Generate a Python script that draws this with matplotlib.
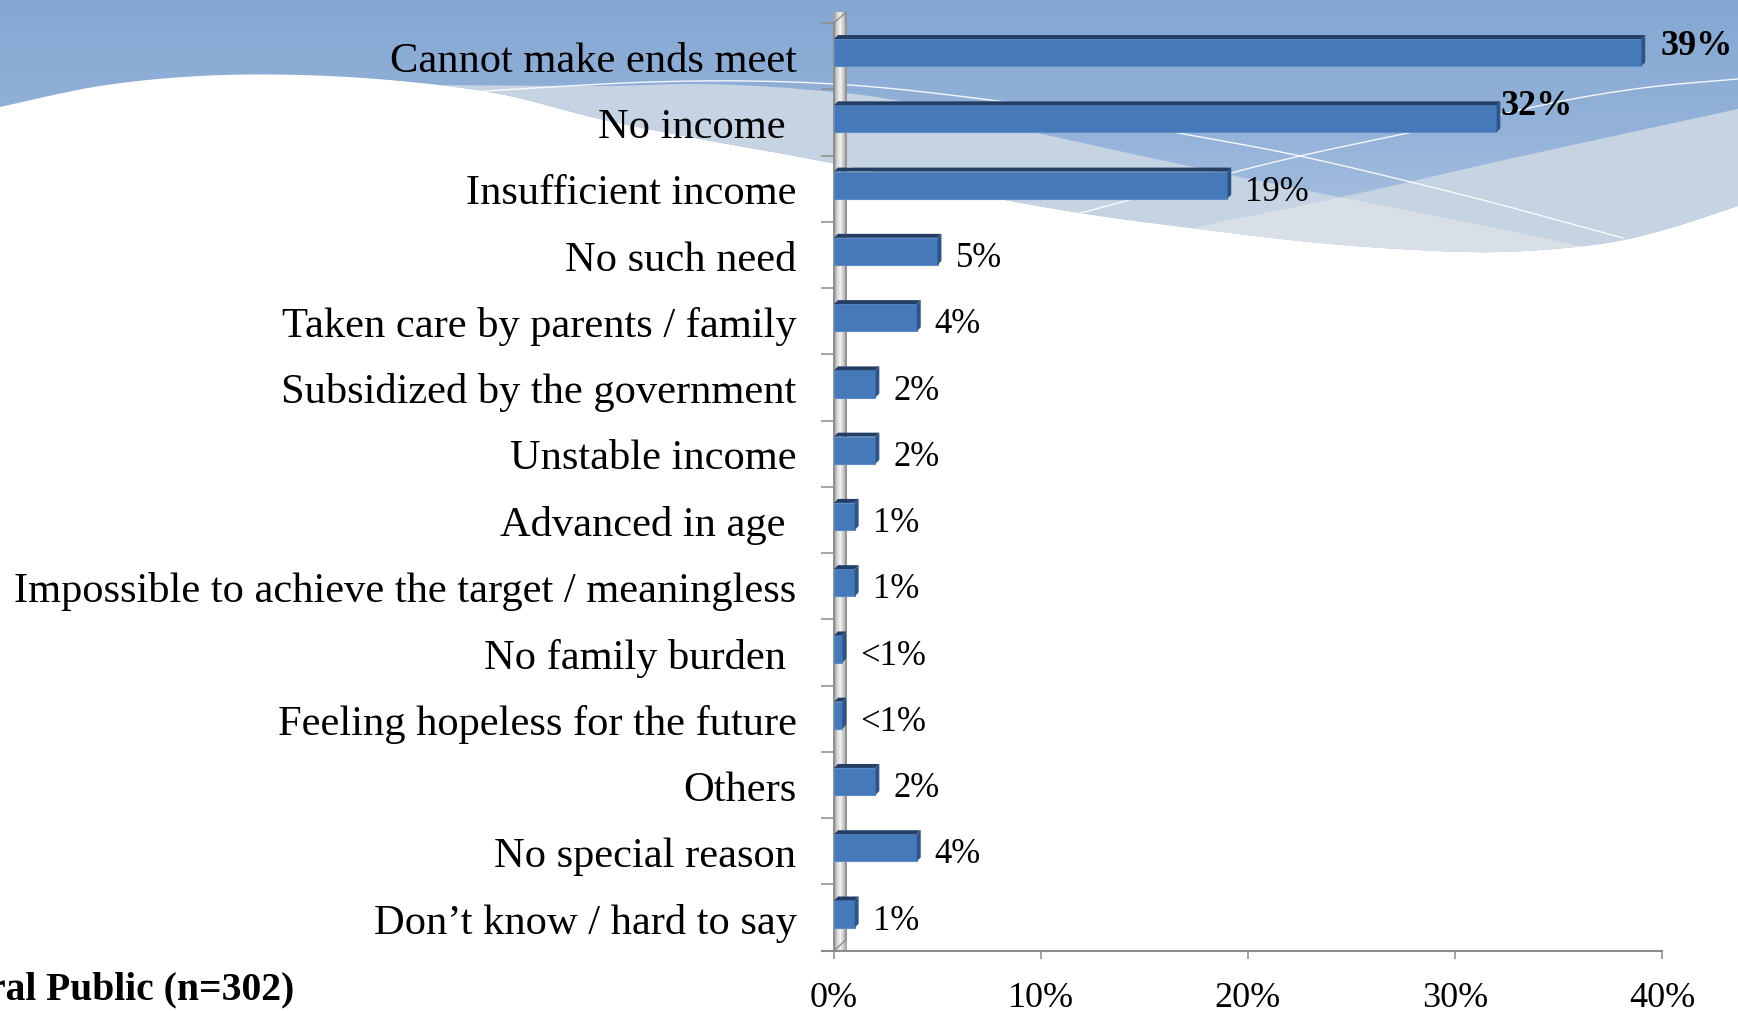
import numpy as np
import matplotlib
matplotlib.use("Agg")
import matplotlib.pyplot as plt
from matplotlib.patches import Polygon
from matplotlib.colors import LinearSegmentedColormap

plt.rcParams['font.family'] = ['Liberation Serif', 'DejaVu Serif']

# reasons for not saving, share of respondents (%)
categories = ["Cannot make ends meet", "No income ", "Insufficient income", "No such need",
              "Taken care by parents / family", "Subsidized by the government",
              "Unstable income", "Advanced in age ",
              "Impossible to achieve the target / meaningless", "No family burden ",
              "Feeling hopeless for the future", "Others", "No special reason",
              "Don\u2019t know / hard to say"]
values = [39, 32, 19, 5, 4, 2, 2, 1, 1, 0.4, 0.4, 2, 4, 1]
value_labels = ["39%", "32%", "19%", "5%", "4%", "2%", "2%", "1%", "1%",
                "<1%", "<1%", "2%", "4%", "1%"]
x_ticks = [0, 10, 20, 30, 40]
note = "General Public (n=302)"

W, H = 1738, 1012
fig = plt.figure(figsize=(W / 100, H / 100), dpi=100)


def smooth(pts, n=30):
    # catmull-rom through the control points
    p = np.array(pts, float)
    p = np.vstack([p[0], p, p[-1]])
    out = []
    t = np.linspace(0, 1, n, endpoint=False)[:, None]
    for i in range(1, len(p) - 2):
        p0, p1, p2, p3 = p[i - 1], p[i], p[i + 1], p[i + 2]
        out.append(0.5 * (2 * p1 + (-p0 + p2) * t + (2 * p0 - 5 * p1 + 4 * p2 - p3) * t ** 2
                          + (-p0 + 3 * p1 - 3 * p2 + p3) * t ** 3))
    out.append(p[-2][None])
    return np.vstack(out)


def on_grid(pts, xs):
    c = smooth(pts)
    return np.interp(xs, c[:, 0], c[:, 1])


# ---- decorative wave banner behind the chart (pixel coordinates) ----
bg = fig.add_axes([0, 0, 1, 1], zorder=0)
bg.set_xlim(0, W)
bg.set_ylim(H, 0)
bg.axis('off')

xs = np.linspace(0, W, 600)
edge = on_grid([(0, 108), (100, 87), (200, 77), (300, 76), (400, 82), (500, 95), (600, 120),
                (700, 140), (800, 158), (900, 178), (1000, 200), (1100, 217), (1200, 230),
                (1300, 242), (1400, 250), (1500, 253), (1600, 245), (1667, 230), (1738, 207)], xs)
mid = on_grid([(440, 86), (600, 87), (700, 85), (800, 90), (900, 102), (1033, 133),
               (1250, 180), (1500, 230), (1738, 280)], xs)
mid = np.where(xs < 440, edge, mid)
rise = on_grid([(1000, 300), (1100, 260), (1180, 232), (1300, 207), (1400, 185), (1500, 162),
                (1600, 140), (1738, 110)], xs)
rise = np.where(xs < 1000, 400, rise)

top_poly = np.vstack([np.column_stack([xs, edge]), [[W, 0], [0, 0]]])
clip = Polygon(top_poly, closed=True, transform=bg.transData, facecolor='none', edgecolor='none')
bg.add_patch(clip)
grad = LinearSegmentedColormap.from_list('band', ['#85A7D2', '#94B2D9', '#AFC5E3'])
img = bg.imshow(np.linspace(0, 1, 256)[:, None], cmap=grad, aspect='auto',
                extent=(0, W, 265, 0), interpolation='bilinear')
img.set_clip_path(clip)

lo = np.minimum(mid, rise)
hi = np.maximum(mid, rise)
bg.fill_between(xs, np.minimum(lo, edge), edge, color='#C6D3E2', lw=0)
bg.fill_between(xs, np.minimum(hi, edge), edge, color='#D8DFE7', lw=0)

for pts in ([(470, 93), (550, 88), (650, 83), (750, 82), (850, 86), (950, 96), (1050, 110),
             (1173, 133), (1300, 157), (1467, 197), (1623, 239)],
            [(1077, 215), (1200, 182), (1300, 157), (1413, 133), (1493, 117), (1567, 101),
             (1650, 88), (1738, 80)]):
    c = smooth(pts)
    bg.plot(c[:, 0], c[:, 1], color='white', lw=1.0, alpha=0.9)

fig.text(294 / W, 1 - 990 / H, note, ha='right', va='center', fontsize=28.5,
         fontweight='bold', color='black')

# ---- bar chart ----
ax = fig.add_axes([834 / W, 1 - 951.7 / H, (1662 - 834) / W, (951.7 - 24) / H], zorder=1)
ax.patch.set_alpha(0)
n = len(categories)
ax.set_xlim(0, 40)
ax.set_ylim(n - 0.5, -0.5)
for s in ax.spines.values():
    s.set_visible(False)

grey = '#8C8C8C'
dx, dy = 0.19, 0.06          # bar depth in data units
wx, wy = 0.58, 0.166         # side wall depth

# side wall with a metallic shine
wall = Polygon([(0, n - 0.5), (0, -0.5), (wx, -0.5 - wy), (wx, n - 0.5 - wy)], closed=True,
               facecolor='none', edgecolor=grey, lw=1.0, zorder=2, clip_on=False)
ax.add_patch(wall)
shine = LinearSegmentedColormap.from_list('shine', ['#9A9A9A', '#D6D6D6', '#F4F4F4', '#C4C4C4', '#A0A0A0'])
wimg = ax.imshow(np.linspace(0, 1, 64)[None, :], cmap=shine, aspect='auto',
                 extent=(0, wx, n - 0.5, -0.5 - wy), zorder=1.5, clip_on=False)
wimg.set_clip_path(wall)
ax.set_xlim(0, 40)
ax.set_ylim(n - 0.5, -0.5)

ypos = np.arange(n)
centers = ypos - 0.053
bh = 0.41
ax.barh(centers, values, height=bh, color='#4679BA', edgecolor='#5C8BC6', lw=0.8, zorder=3)
for yc, v in zip(centers, values):
    t, b = yc - bh / 2, yc + bh / 2
    ax.add_patch(Polygon([(0, t), (v, t), (v + dx, t - dy), (dx, t - dy)], closed=True,
                         facecolor='#243F66', edgecolor='none', zorder=3, clip_on=False))
    ax.add_patch(Polygon([(v, t), (v + dx, t - dy), (v + dx, b - dy), (v, b)], closed=True,
                         facecolor='#2D5487', edgecolor='none', zorder=3, clip_on=False))

# value labels; the two largest are bold and sit a little higher
for i, (v, lab) in enumerate(zip(values, value_labels)):
    if i == 0:
        ax.text(v + 0.92, i - 0.16, lab, va='center', ha='left', fontsize=26, fontweight='bold')
    elif i == 1:
        ax.text(v + 0.2, i - 0.26, lab, va='center', ha='left', fontsize=26, fontweight='bold')
    else:
        ax.text(v + 0.87, i + 0.04, lab, va='center', ha='left', fontsize=25)

# axes lines
ax.plot([0, 0], [n - 0.5, -0.5], color=grey, lw=1.2, zorder=2, clip_on=False)
ax.plot([-0.6, 40], [n - 0.5, n - 0.5], color=grey, lw=1.5, zorder=2, clip_on=False)

ax.set_yticks(ypos)
ax.set_yticklabels(categories, fontsize=30.6)
ax.set_yticks(np.arange(n + 1) - 0.5, minor=True)
ax.tick_params(axis='y', which='major', length=0, pad=27)
ax.tick_params(axis='y', which='minor', length=9.4, width=1.1, color=grey, direction='out')
ax.set_xticks(x_ticks)
ax.set_xticklabels([f"{t}%" for t in x_ticks], fontsize=26)
ax.tick_params(axis='x', length=5.8, width=1.1, color=grey, direction='out', pad=16)

fig.savefig("out.png", dpi=100)
